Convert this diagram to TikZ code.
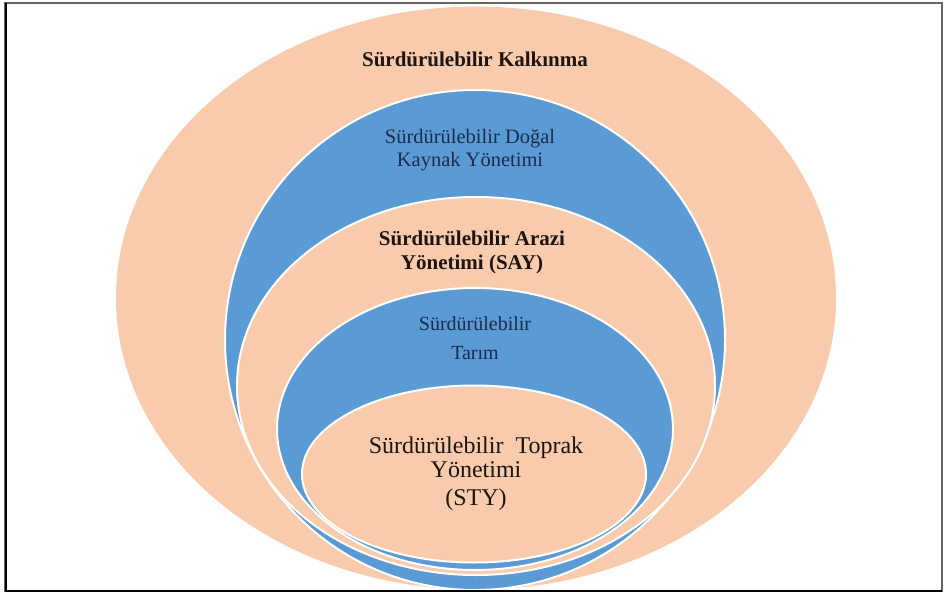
\documentclass[tikz,border=0pt]{standalone}
\usepackage{fontspec}
\setmainfont{Liberation Serif}
\usetikzlibrary{shapes.geometric}
\definecolor{peach}{HTML}{F8CBAD}
\definecolor{ofblue}{HTML}{5B9BD5}
\definecolor{navy}{HTML}{1A2B4C}
\definecolor{ink}{HTML}{1E1410}

\begin{document}
\begin{tikzpicture}[x=1pt,y=-1pt,
    ring/.style={ellipse,fill=#1,draw=white,line width=2pt,inner sep=0pt},
    lbl/.style={align=center,anchor=base,font=\fontsize{20}{23}\selectfont}]
  \useasboundingbox (0,0) rectangle (944,596);
  % nested rings, outside in
  \node[ring=peach,draw=none,minimum width=720pt,minimum height=583pt] (kalkinma) at (476,298) {};
  \node[ring=ofblue,minimum width=500pt,minimum height=500pt] (dogal) at (475,340) {};
  \node[ring=peach,minimum width=478pt,minimum height=378pt] (arazi) at (476,386) {};
  \node[ring=ofblue,minimum width=396pt,minimum height=282pt] (tarim) at (475,429) {};
  \node[ring=peach,minimum width=344pt,minimum height=177pt] (toprak) at (474,474) {};
  % texts (base = last line)
  \node[lbl,text=ink,font=\fontsize{21}{24}\selectfont\bfseries] (kalkinmaText) at (475,67) {Sürdürülebilir Kalkınma};
  \node[lbl,text=navy,font=\fontsize{20.5}{23}\selectfont] (dogalText) at (470,167) {Sürdürülebilir Doğal\\Kaynak Yönetimi};
  \node[lbl,text=ink,font=\fontsize{21}{24}\selectfont\bfseries] (araziText) at (472,269) {Sürdürülebilir Arazi\\Yönetimi (SAY)};
  \node[lbl,text=navy,font=\fontsize{20}{29}\selectfont] (tarimText) at (475,359) {Sürdürülebilir\\Tarım};
  \node[lbl,text=ink,font=\fontsize{24}{24}\selectfont] (toprakText) at (476,505) {Sürdürülebilir\ \ Toprak\\Yönetimi\\[4pt](STY)};
  % frame
  \draw[gray!80!black,line width=1.5pt] (5,3) rectangle (942,591);
  \draw[black,line width=2pt] (5.5,3) -- (5.5,591) -- (942,591);
\end{tikzpicture}
\end{document}
